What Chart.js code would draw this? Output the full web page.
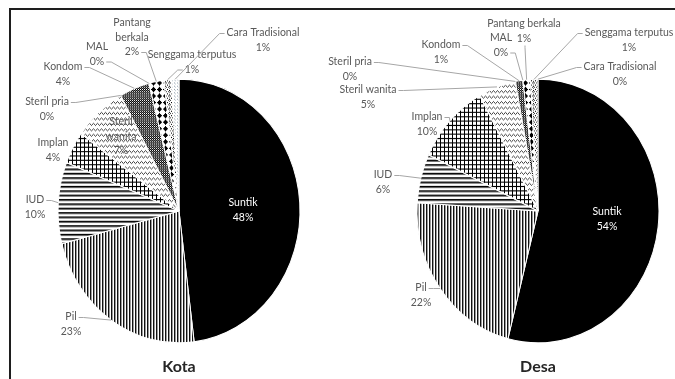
<!DOCTYPE html>
<html>
<head>
<meta charset="utf-8">
<script src="https://cdn.jsdelivr.net/npm/chart.js@4/dist/chart.umd.min.js"></script>
<style>
  html, body { margin: 0; padding: 0; background: #fff; }
  #wrap { position: relative; width: 675px; height: 379px; overflow: hidden; background: #fff; }
  #wrap canvas { position: absolute; left: 0; top: 0; }
  #frame { position: absolute; left: 9px; top: 8px; right: -4px; bottom: -4px;
           border-top: 2px solid #1e1e1e; border-left: 2px solid #1e1e1e; }
</style>
</head>
<body>
<div id="wrap">
  <div id="frame"></div>
  <canvas id="kota" width="675" height="379"></canvas>
  <canvas id="desa" width="675" height="379"></canvas>
</div>
<script>
// Contraceptive method shares (%), urban (Kota) and rural (Desa)
const methods = ['Suntik', 'Pil', 'IUD', 'Implan', 'Steril wanita', 'Steril pria',
                 'Kondom', 'MAL', 'Pantang berkala', 'Senggama terputus', 'Cara Tradisional'];
const kotaShare = [48, 23, 10, 4, 7, 0, 4, 0, 2, 1, 1];
const desaShare = [54, 22, 6, 10, 5, 0, 1, 0, 1, 1, 0];
const chartTitles = ['Kota', 'Desa'];

// vertical stretch applied to the pies
const K = 1.09;
const LH = 14.5;
const LABEL_FONT = '10.5px Lato';

// ---- monochrome fill patterns ----
function tile(w, h, draw) {
  const c = document.createElement('canvas');
  c.width = w; c.height = h;
  const g = c.getContext('2d');
  g.fillStyle = '#fff'; g.fillRect(0, 0, w, h);
  const px = (x, y, col) => { g.fillStyle = col || '#000'; g.fillRect(x, y, 1, 1); };
  draw(g, px);
  return g.createPattern(c, 'repeat');
}
const fills = [
  '#000000',                                                     // Suntik
  tile(3, 1, (g, px) => { px(0, 0, '#111'); px(1, 0, '#9a9a9a'); }), // Pil: vertical lines
  tile(1, 4, (g, px) => { px(0, 0); px(0, 1, '#666'); }),        // IUD: horizontal lines
  tile(4, 4, (g, px) => { g.fillStyle = '#000'; g.fillRect(0, 0, 4, 1); g.fillRect(0, 0, 1, 4); }), // Implan: grid
  tile(4, 5, (g, px) => { px(0, 1, '#444'); px(1, 0, '#666'); px(2, 1, '#444'); px(3, 2, '#666'); }), // Steril wanita: zigzag
  tile(4, 4, (g, px) => { px(0, 0); px(2, 2); }),                // Steril pria
  tile(2, 2, (g, px) => { px(0, 0); px(1, 1); px(1, 0, '#7a7a7a'); }), // Kondom: dense checker
  tile(4, 4, (g, px) => { px(0, 0); }),                          // MAL
  tile(6, 6, (g, px) => {                                        // Pantang berkala: diamonds
    px(3, 1); px(2, 2); px(3, 2); px(4, 2);
    px(1, 3); px(2, 3); px(3, 3); px(4, 3); px(5, 3);
    px(2, 4); px(3, 4); px(4, 4); px(3, 5);
  }),
  tile(4, 4, (g, px) => { px(1, 0); px(0, 1, '#444'); px(2, 1, '#444'); px(1, 2, '#777'); px(3, 3); }), // Senggama terputus: confetti
  tile(3, 3, (g, px) => { px(0, 0, '#9aa7b3'); px(1, 1, '#c3ccd4'); })  // Cara Tradisional: light dots
];

// label placement around each pie (offsets from the pie centre)
const kotaLabels = [
  { dx: 64,   dy: -8,   color: '#ffffff' },
  { dx: -108, dy: 106,  lead: 'r' },
  { dx: -144, dy: -11,  lead: 'r' },
  { dx: -126, dy: -68 },
  { dx: -58,  dy: -89,  lines: ['Steril', 'wanita'] },
  { dx: -132, dy: -109, lead: 'r' },
  { dx: -116, dy: -144, lead: 'r' },
  { dx: -82,  dy: -164, lead: 'r2' },
  { dx: -47,  dy: -188, lead: 'r2', lines: ['Pantang', 'berkala'] },
  { dx: 13,   dy: -156, lead: 'l2' },
  { dx: 84,   dy: -178, lead: 'l' }
];
const desaLabels = [
  { dx: 69,   dy: 1,    color: '#ffffff' },
  { dx: -117, dy: 77,   lead: 'r' },
  { dx: -155, dy: -36,  lead: 'r' },
  { dx: -111, dy: -94,  lead: 'r' },
  { dx: -170, dy: -121, lead: 'r' },
  { dx: -188, dy: -149, lead: 'r' },
  { dx: -97,  dy: -166, lead: 'r' },
  { dx: -37,  dy: -173, lead: 'r2' },
  { dx: -14,  dy: -187, lead: 'b' },
  { dx: 91,   dy: -178, lead: 'l' },
  { dx: 82,   dy: -144, lead: 'l' }
];

// stretch the pie drawing vertically around its centre
const ellipse = {
  id: 'ellipse',
  beforeDatasetsDraw(chart) {
    const a = chart.getDatasetMeta(0).data[0];
    const c = chart.ctx;
    c.save();
    c.translate(a.x, a.y); c.scale(1, K); c.translate(-a.x, -a.y);
  },
  afterDatasetsDraw(chart) { chart.ctx.restore(); }
};

// data labels with leader lines, and the chart title under the pie
const sliceLabels = {
  id: 'sliceLabels',
  afterDraw(chart, args, opts) {
    const ctx = chart.ctx;
    const meta = chart.getDatasetMeta(0);
    const vals = chart.data.datasets[0].data;
    const cx = meta.data[0].x, cy = meta.data[0].y;
    ctx.save();
    ctx.font = LABEL_FONT;
    ctx.textAlign = 'center';
    ctx.textBaseline = 'middle';
    ctx.strokeStyle = '#a6a6a6';
    ctx.lineWidth = 1;
    opts.layout.forEach((L, i) => {
      const el = meta.data[i];
      const lines = (L.lines || [chart.data.labels[i]]).concat(vals[i] + '%');
      const x = cx + L.dx, y0 = cy + L.dy;
      if (L.lead) {
        const mid = (el.startAngle + el.endAngle) / 2;
        const ax = cx + el.outerRadius * Math.cos(mid);
        const ay = cy + K * el.outerRadius * Math.sin(mid);
        const row = L.lead.endsWith('2') ? lines.length - 1 : 0;
        const ly = y0 + row * LH + 0.5;
        const w = ctx.measureText(lines[row]).width;
        let sx, sy, tx, ty;
        if (L.lead[0] === 'r') { sx = x + w / 2 + 2; sy = ly; tx = sx + 5; ty = ly; }
        else if (L.lead[0] === 'l') { sx = x - w / 2 - 2; sy = ly; tx = sx - 5; ty = ly; }
        else { sx = x + 1; sy = y0 + (lines.length - 1) * LH + 7; tx = sx; ty = sy + 2; }
        ctx.beginPath();
        ctx.moveTo(sx, sy); ctx.lineTo(tx, ty); ctx.lineTo(ax, ay);
        ctx.stroke();
      }
      ctx.fillStyle = L.color || '#595959';
      lines.forEach((t, j) => ctx.fillText(t, x, y0 + j * LH));
    });
    ctx.font = 'bold 16px Lato';
    ctx.fillStyle = '#262626';
    ctx.fillText(opts.title, cx, cy + 156);
    ctx.restore();
  }
};

function makePie(id, values, layout, title, padding) {
  return new Chart(document.getElementById(id), {
    type: 'pie',
    data: {
      labels: methods,
      datasets: [{ data: values, backgroundColor: fills, borderColor: '#ffffff', borderWidth: 1 }]
    },
    options: {
      responsive: false,
      animation: false,
      events: [],
      layout: { padding },
      plugins: {
        legend: { display: false },
        tooltip: { enabled: false },
        sliceLabels: { layout, title }
      }
    },
    plugins: [ellipse, sliceLabels]
  });
}

makePie('kota', kotaShare, kotaLabels, chartTitles[0],
        { left: 57.5, right: 374.5, top: 89.5, bottom: 46.5 });
makePie('desa', desaShare, desaLabels, chartTitles[1],
        { left: 416.5, right: 15.5, top: 89.5, bottom: 46.5 });
</script>
</body>
</html>
